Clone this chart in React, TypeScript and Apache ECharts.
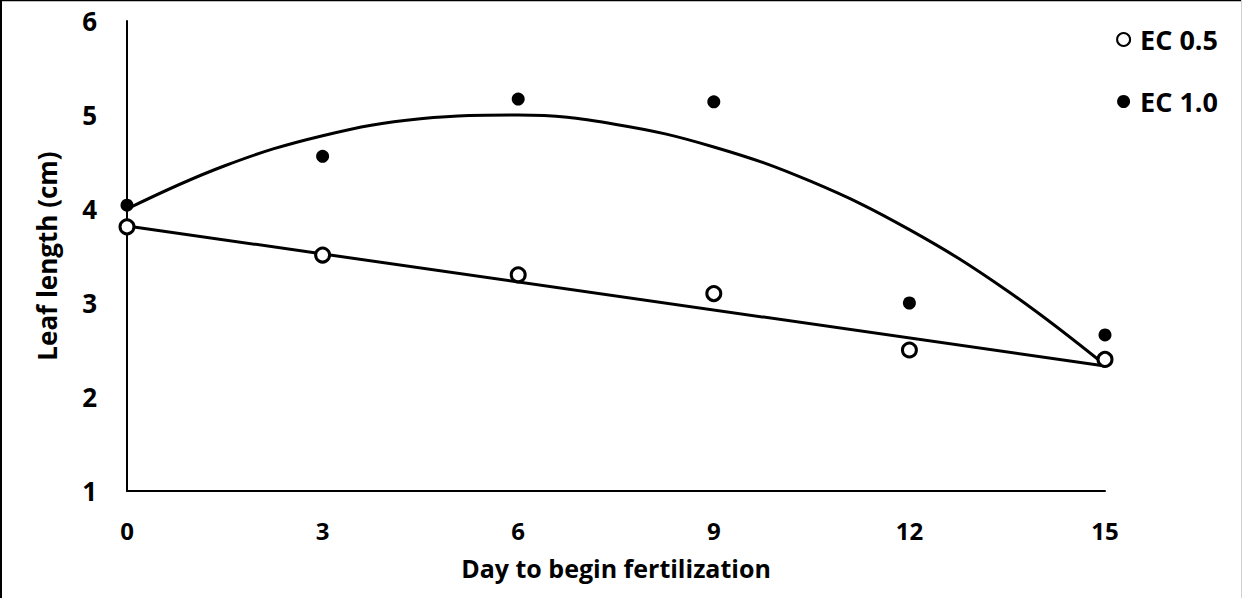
import React, { useEffect, useRef } from "react";
import * as echarts from "echarts";

const days = [0, 3, 6, 9, 12, 15];
const ec05 = [3.81, 3.51, 3.3, 3.1, 2.5, 2.4];
const ec10 = [4.04, 4.56, 5.17, 5.14, 3.0, 2.66];

// Trend lines
const trend05X = [0, 15];
const trend05Y = [3.82, 2.33];
const trend10X = [0, 1.5, 3, 4.5, 6, 7.5, 9, 10.5, 12, 13.5, 15];
const trend10Y = [4.0, 4.46, 4.78, 4.96, 5.0, 4.9, 4.66, 4.29, 3.78, 3.13, 2.34];

const xTicks = [0, 3, 6, 9, 12, 15];
const yTicks = [1, 2, 3, 4, 5, 6];

const FONT = "Open Sans";

export default function App() {
  const ref = useRef<HTMLDivElement>(null);
  useEffect(() => {
    if (!ref.current) return;
    const chart = echarts.init(ref.current, undefined, { renderer: "svg" });
    const pairs = (xs: number[], ys: number[]) => xs.map((x, i) => [x, ys[i]]);
    const txt = { fontFamily: FONT, fontWeight: "bold", fontSize: 26, lineHeight: 26, color: "#000" };
    chart.setOption({
      animation: false,
      backgroundColor: "#fff",
      textStyle: { fontFamily: FONT },
      grid: { left: 127, right: 137, top: 21, bottom: 107, containLabel: false },
      legend: {
        data: ["EC 0.5", "EC 1.0"],
        orient: "vertical",
        right: 19,
        top: 21,
        itemGap: 35,
        itemWidth: 13,
        itemHeight: 13,
        textStyle: { ...txt, fontSize: 27, lineHeight: 27, padding: [0, 0, 0, 5] },
      },
      xAxis: {
        type: "value",
        min: 0,
        max: 15,
        interval: 3,
        name: "Day to begin fertilization",
        nameLocation: "middle",
        nameGap: 64,
        nameTextStyle: { ...txt, fontSize: 25, lineHeight: 25 },
        axisLine: { lineStyle: { color: "#000", width: 2 } },
        axisTick: { show: false },
        splitLine: { show: false },
        axisLabel: {
          ...txt,
          fontSize: 24,
          lineHeight: 24,
          margin: 27,
          formatter: (v: number) => (xTicks.includes(v) ? String(v) : ""),
        },
      },
      yAxis: {
        type: "value",
        min: 1,
        max: 6,
        interval: 1,
        name: "Leaf length (cm)",
        nameLocation: "middle",
        nameGap: 67,
        nameRotate: 90,
        nameTextStyle: txt,
        axisLine: { show: true, onZero: false, lineStyle: { color: "#000", width: 2 } },
        axisTick: { show: false },
        splitLine: { show: false },
        axisLabel: {
          ...txt,
          margin: 30,
          formatter: (v: number) => (yTicks.includes(v) ? String(v) : ""),
        },
      },
      series: [
        {
          name: "trend05",
          type: "line",
          data: pairs(trend05X, trend05Y),
          showSymbol: false,
          silent: true,
          lineStyle: { color: "#000", width: 3 },
          z: 1,
        },
        {
          name: "trend10",
          type: "line",
          data: pairs(trend10X, trend10Y),
          smooth: 0.4,
          showSymbol: false,
          silent: true,
          lineStyle: { color: "#000", width: 3 },
          z: 1,
        },
        {
          name: "EC 0.5",
          type: "scatter",
          data: pairs(days, ec05),
          symbol: "circle",
          symbolSize: 14,
          itemStyle: { color: "#fff", borderColor: "#000", borderWidth: 3, opacity: 1 },
          z: 3,
        },
        {
          name: "EC 1.0",
          type: "scatter",
          data: pairs(days, ec10),
          symbol: "circle",
          symbolSize: 13,
          itemStyle: { color: "#000", opacity: 1 },
          z: 3,
        },
      ],
      graphic: [
        { type: "line", shape: { x1: 1, y1: 0, x2: 1, y2: 598 }, style: { stroke: "#000", lineWidth: 2 } },
        { type: "line", shape: { x1: 0, y1: 0.5, x2: 1242, y2: 0.5 }, style: { stroke: "#000", lineWidth: 1.5 } },
        { type: "line", shape: { x1: 1241.5, y1: 0, x2: 1241.5, y2: 598 }, style: { stroke: "#d0d0d0", lineWidth: 1 } },
      ],
    });
    return () => chart.dispose();
  }, []);
  return (
    <div
      ref={ref}
      style={{ position: "fixed", left: 0, top: 0, width: 1242, height: 598 }}
    />
  );
}
